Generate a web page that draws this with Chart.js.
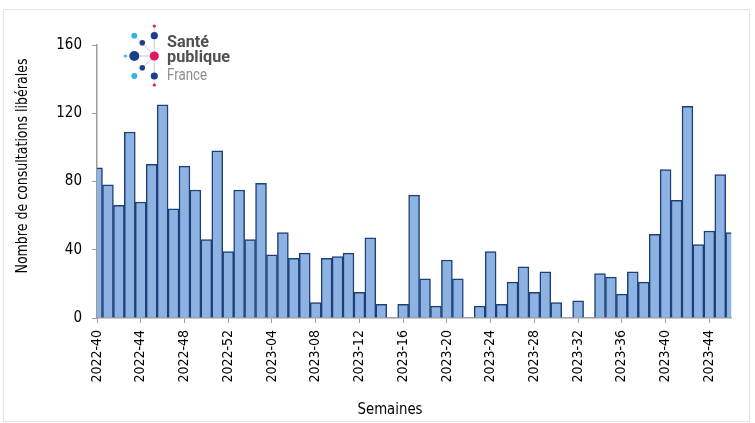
<!DOCTYPE html>
<html lang="fr">
<head>
    <meta charset="UTF-8">
    <title>Consultations libérales par semaine</title>
    <script src="https://cdn.jsdelivr.net/npm/chart.js@4.4.0/dist/chart.umd.min.js"></script>
    <style>
        html, body { margin: 0; padding: 0; background: #fff; }
        #wrap { width: 755px; height: 423px; position: relative; }
    </style>
</head>
<body>
    <div id="wrap"><canvas id="consultChart"></canvas></div>

    <script>
        // Semaines (axe X)
        const semaines = [
            '2022-40', '2022-41', '2022-42', '2022-43', '2022-44', '2022-45', '2022-46',
            '2022-47', '2022-48', '2022-49', '2022-50', '2022-51', '2022-52',
            '2023-01', '2023-02', '2023-03', '2023-04', '2023-05', '2023-06', '2023-07',
            '2023-08', '2023-09', '2023-10', '2023-11', '2023-12', '2023-13', '2023-14',
            '2023-15', '2023-16', '2023-17', '2023-18', '2023-19', '2023-20', '2023-21',
            '2023-22', '2023-23', '2023-24', '2023-25', '2023-26', '2023-27', '2023-28',
            '2023-29', '2023-30', '2023-31', '2023-32', '2023-33', '2023-34', '2023-35',
            '2023-36', '2023-37', '2023-38', '2023-39', '2023-40', '2023-41', '2023-42',
            '2023-43', '2023-44', '2023-45', '2023-46'
        ];

        // Nombre de consultations libérales
        const consultations = [
            88, 78, 66, 109, 68, 90, 125,
            64, 89, 75, 46, 98, 39,
            75, 46, 79, 37, 50, 35, 38,
            9, 35, 36, 38, 15, 47, 8,
            0, 8, 72, 23, 7, 34, 23,
            0, 7, 39, 8, 21, 30, 15,
            27, 9, 0, 10, 0, 26, 24,
            14, 27, 21, 49, 87, 69, 124,
            43, 51, 84, 50
        ];

        const yTicks = [0, 40, 80, 120, 160];

        const narrow = "'Liberation Sans Narrow', 'Arial Narrow', 'DejaVu Sans Condensed', sans-serif";

        // cadre, titres des axes et logo
        const decor = {
            id: 'decor',
            beforeDraw(chart) {
                const c = chart.ctx;
                c.save();
                c.fillStyle = '#fff';
                c.fillRect(0, 0, chart.width, chart.height);
                c.strokeStyle = '#e4e4dc';
                c.lineWidth = 1;
                c.strokeRect(3.5, 9.5, 746, 412);
                c.restore();
            },
            afterDraw(chart) {
                const c = chart.ctx;
                c.save();
                c.fillStyle = '#000';
                c.textAlign = 'center';
                c.textBaseline = 'middle';
                c.font = '16px ' + narrow;
                c.fillText('Semaines', 390, 410, 65);

                c.translate(23, 166);
                c.rotate(-Math.PI / 2);
                c.font = '15px ' + narrow;
                c.fillText('Nombre de consultations libérales', 0, 0, 215);
                c.restore();

                // logo Santé publique France
                c.save();
                const hub = [154.3, 56];
                const dots = [
                    [154.3, 26, 1.6, '#e4175b'],
                    [154.3, 35.7, 3.6, '#1b3f8b'],
                    [134.3, 35.7, 3, '#3ab2e6'],
                    [142.3, 42.7, 2.8, '#1b3f8b'],
                    [125.3, 56, 1.6, '#3ab2e6'],
                    [134.3, 56, 5, '#1b3f8b'],
                    [142.3, 67.7, 2.8, '#1b3f8b'],
                    [134.3, 76, 3, '#3ab2e6'],
                    [154.3, 76, 3.6, '#1b3f8b'],
                    [154.3, 85, 1.6, '#e4175b']
                ];
                c.strokeStyle = '#c9d3e6';
                c.lineWidth = 0.8;
                dots.forEach(d => {
                    c.beginPath();
                    c.moveTo(hub[0], hub[1]);
                    c.lineTo(d[0], d[1]);
                    c.stroke();
                });
                dots.forEach(d => {
                    c.beginPath();
                    c.fillStyle = d[3];
                    c.arc(d[0], d[1], d[2], 0, Math.PI * 2);
                    c.fill();
                });
                c.beginPath();
                c.fillStyle = '#e4175b';
                c.arc(hub[0], hub[1], 4.6, 0, Math.PI * 2);
                c.fill();

                c.textAlign = 'left';
                c.textBaseline = 'alphabetic';
                c.fillStyle = '#505050';
                c.font = 'bold 17px Roboto, sans-serif';
                c.fillText('Santé', 167, 47, 42);
                c.fillText('publique', 167, 61.5, 63);
                c.fillStyle = '#8e8e8e';
                c.font = '17px Roboto, sans-serif';
                c.fillText('France', 167, 80, 40);
                c.restore();
            }
        };

        const ctx = document.getElementById('consultChart').getContext('2d');
        const consultChart = new Chart(ctx, {
            type: 'bar',
            data: {
                labels: semaines,
                datasets: [{
                    data: consultations,
                    backgroundColor: '#8db3e2',
                    borderColor: '#1f3f78',
                    borderWidth: c => (c.raw ? 1.5 : 0),
                    barPercentage: 1,
                    categoryPercentage: 1,
                    clip: 0
                }]
            },
            options: {
                responsive: true,
                maintainAspectRatio: false,
                animation: false,
                layout: { padding: { left: 0, top: 45, right: 15, bottom: 0 } },
                plugins: {
                    legend: { display: false },
                    tooltip: { enabled: false }
                },
                scales: {
                    x: {
                        offset: false,
                        afterFit: s => { s.height = 105; },
                        border: { display: true, color: '#9c9c9c', width: 1.5 },
                        grid: {
                            offset: false,
                            drawOnChartArea: false,
                            drawTicks: true,
                            tickLength: 5,
                            color: c => (c.index % 4 === 0 ? '#9c9c9c' : 'rgba(0,0,0,0)')
                        },
                        ticks: {
                            autoSkip: false,
                            minRotation: 90,
                            maxRotation: 90,
                            padding: 7,
                            color: '#000',
                            font: { family: narrow, size: 14 },
                            callback: (v, i) => (i % 4 === 0 ? semaines[i] : '')
                        }
                    },
                    y: {
                        min: yTicks[0],
                        max: yTicks[yTicks.length - 1],
                        afterFit: s => { s.width = 97; },
                        afterBuildTicks: s => { s.ticks = yTicks.map(v => ({ value: v })); },
                        border: { display: true, color: '#9c9c9c', width: 1.5 },
                        grid: {
                            drawOnChartArea: false,
                            drawTicks: true,
                            tickLength: 5,
                            color: '#9c9c9c'
                        },
                        ticks: {
                            padding: 10,
                            color: '#000',
                            font: { family: narrow, size: 15 }
                        }
                    }
                }
            },
            plugins: [decor]
        });
    </script>
</body>
</html>
